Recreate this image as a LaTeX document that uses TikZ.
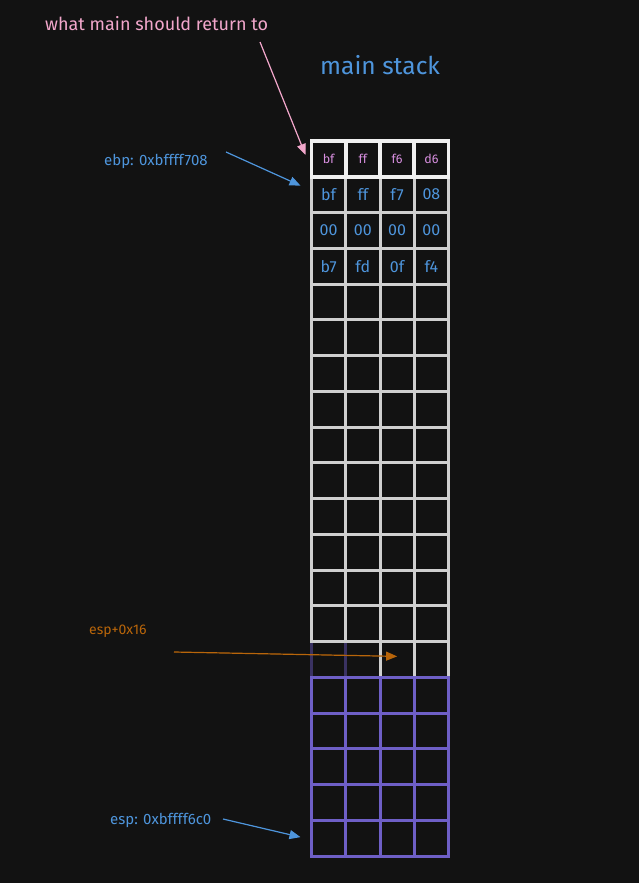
\documentclass[tikz,border=0pt]{standalone}
\usepackage{fontspec}
\setmainfont{Fira Sans}
\usepackage{tikz}
\usetikzlibrary{positioning, arrows.meta}

\definecolor{bgcol}{HTML}{121212}
\definecolor{gridcol}{HTML}{CFCFCF}
\definecolor{topcol}{HTML}{F0F0F0}
\definecolor{stackcol}{HTML}{6E5FC6}
\definecolor{dimcol}{HTML}{3A3262}
\definecolor{bluecol}{HTML}{4E95DC}
\definecolor{pinkcol}{HTML}{F2A7CB}
\definecolor{byteviolet}{HTML}{D88FE0}
\definecolor{orangecol}{HTML}{B8650A}

\begin{document}
\begin{tikzpicture}[
    x=1pt, y=-1pt,
    >={Triangle[length=11pt, width=9pt]},
    cell/.style={draw=gridcol, line width=3pt, minimum width=34.25pt, minimum height=35.75pt, inner sep=0pt, outer sep=0pt},
    topcell/.style={cell, draw=topcol, line width=3.6pt, text=byteviolet, font=\fontsize{12.5}{14}\selectfont},
    bytecell/.style={cell, text=bluecol, font=\fontsize{16}{18}\selectfont},
    stackcell/.style={cell, draw=stackcol},
    dimcell/.style={cell, draw=dimcol},
    note/.style={inner sep=0pt, anchor=west},
    ptr/.style={->, line width=1.2pt}
]

% Background and page size
\fill[bgcol] (0,0) rectangle (639,883);
\useasboundingbox (0,0) rectangle (639,883);

% Stack cells, one unit per cell
\begin{scope}[shift={(311.5,141)}, x=34.25pt, y=-35.75pt]

% half-covered slots above esp+0x16
\foreach \c in {1,2}
    \node[dimcell] (c15-\c) at (\c-0.5, 14.5) {};

% plain slots
\foreach \r in {5,...,14}
    \foreach \c in {1,...,4}
        \node[cell] (c\r-\c) at (\c-0.5, \r-0.5) {};
\foreach \c in {3,4}
    \node[cell] (c15-\c) at (\c-0.5, 14.5) {};

% saved bytes
\foreach \c/\b in {1/bf, 2/ff, 3/f7, 4/08}
    \node[bytecell] (c2-\c) at (\c-0.5, 1.5) {\b};
\foreach \c/\b in {1/00, 2/00, 3/00, 4/00}
    \node[bytecell] (c3-\c) at (\c-0.5, 2.5) {\b};
\foreach \c/\b in {1/b7, 2/fd, 3/0f, 4/f4}
    \node[bytecell] (c4-\c) at (\c-0.5, 3.5) {\b};

% current frame
\foreach \r in {16,...,20}
    \foreach \c in {1,...,4}
        \node[stackcell] (c\r-\c) at (\c-0.5, \r-0.5) {};

% return address
\foreach \c/\b in {1/bf, 2/ff, 3/f6, 4/d6}
    \node[topcell] (c1-\c) at (\c-0.5, 0.5) {\b};
\end{scope}

% Labels
\node[note, text=pinkcol, font=\fontsize{18}{20}\selectfont] (ret) at (45,24) {what main should return to};
\node[note, text=bluecol, font=\fontsize{24.5}{26}\selectfont] (title) at (320,65) {main stack};
\node[note, text=bluecol, font=\fontsize{15}{17}\selectfont] (ebp) at (104,161) {ebp: 0xbffff708};
\node[note, text=orangecol, font=\fontsize{14}{16}\selectfont] (off) at (89,631) {esp+0x16};
\node[note, text=bluecol, font=\fontsize{15}{17}\selectfont] (esp) at (110,820) {esp: 0xbffff6c0};

% Pointers
\coordinate (rettail) at (260,42);
\draw[ptr, draw=pinkcol, fill=pinkcol] (rettail) -- ([xshift=-6pt, yshift=-14pt]c1-1.north west);

\coordinate (ebptail) at (226,152);
\draw[ptr, draw=bluecol, fill=bluecol] (ebptail) -- ([xshift=-11pt, yshift=9pt]c2-1.west);

\coordinate (offtail) at (174,652);
\draw[ptr, draw=orangecol, fill=orangecol] (offtail) -- ([yshift=3pt]c15-3.center);

\coordinate (esptail) at (223,819);
\draw[ptr, draw=bluecol, fill=bluecol] (esptail) -- ([xshift=-11pt, yshift=1pt]c20-1.west);

\end{tikzpicture}
\end{document}
